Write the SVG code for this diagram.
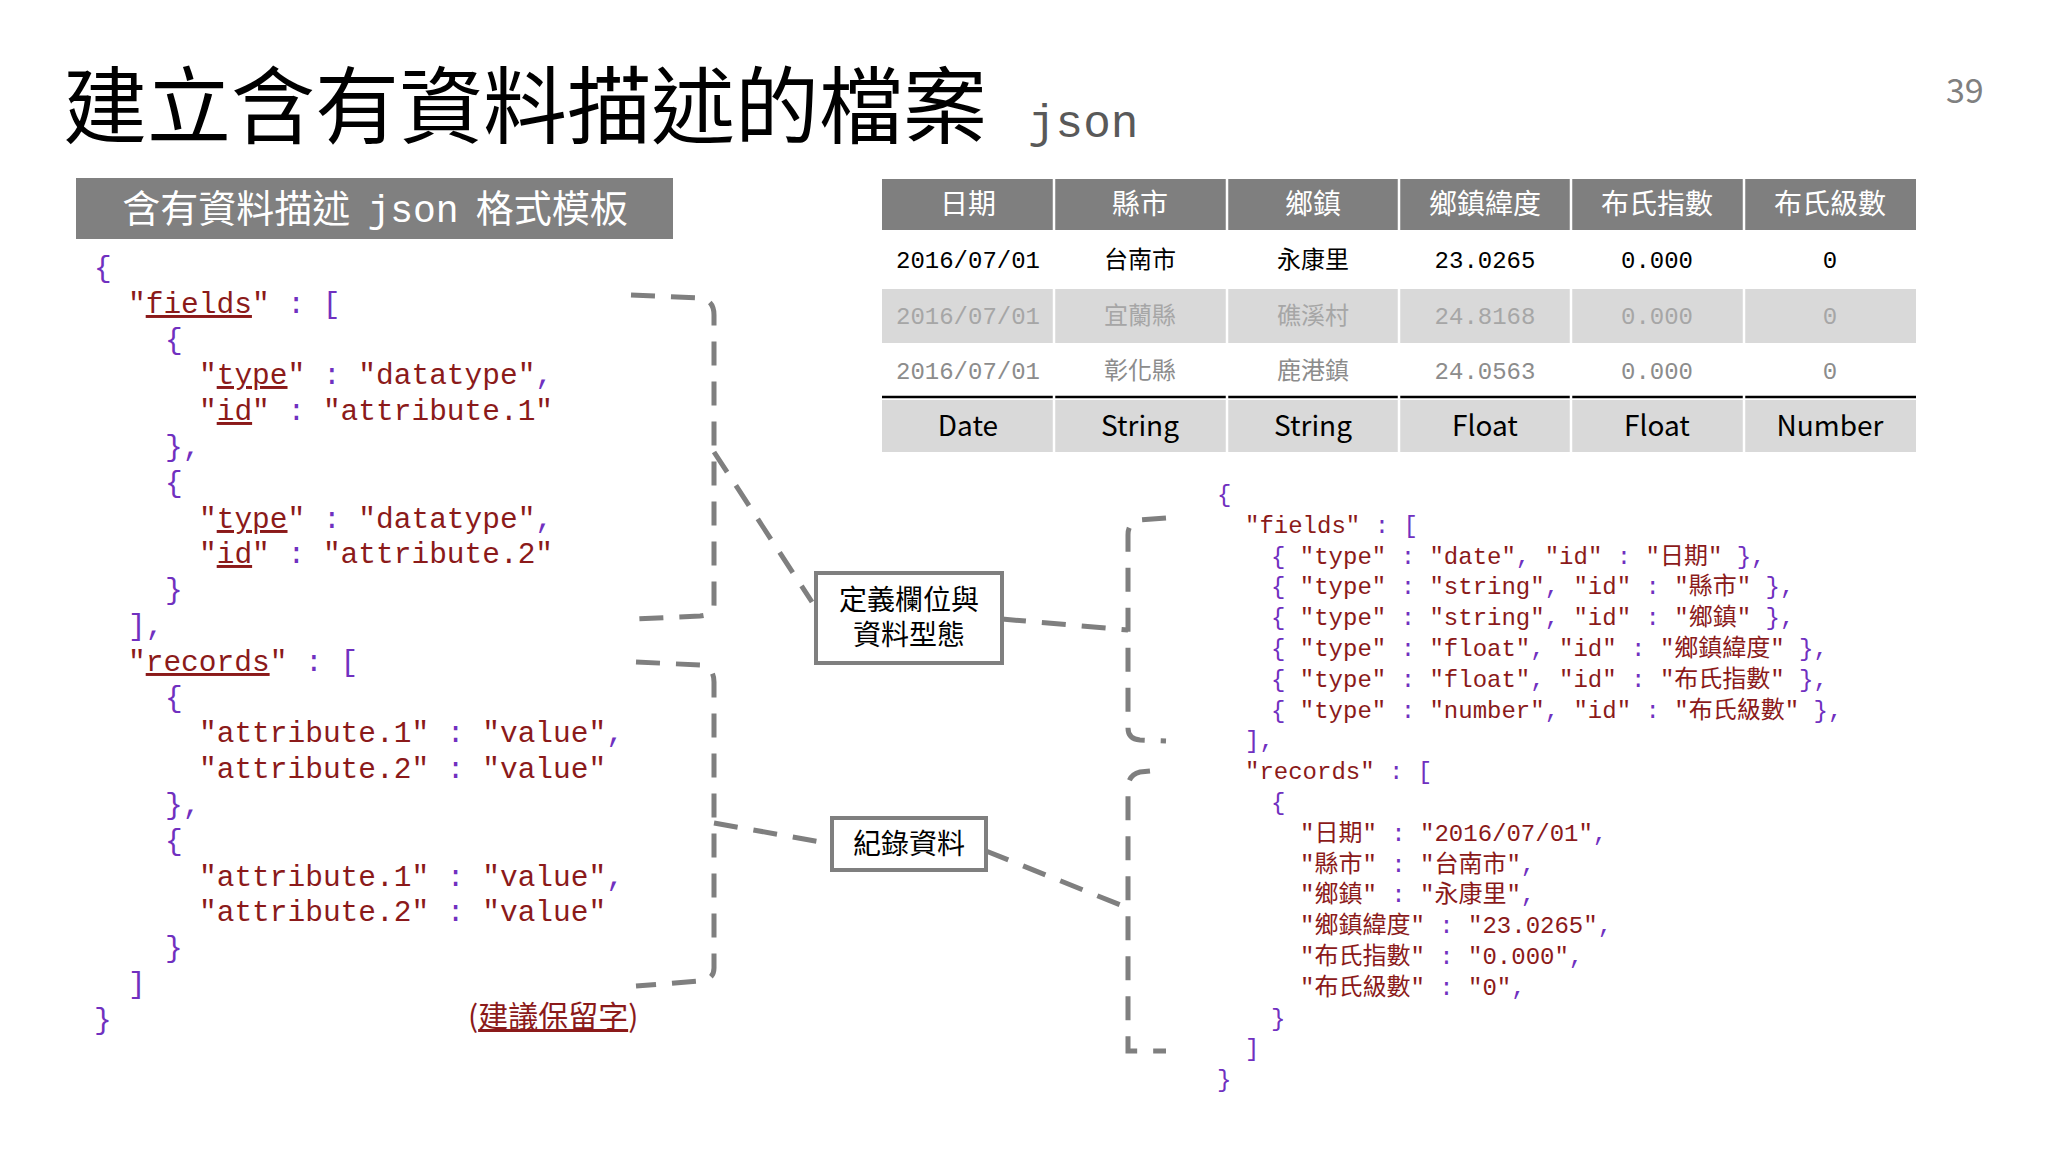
<svg xmlns="http://www.w3.org/2000/svg" width="2048" height="1152" viewBox="0 0 2048 1152">
<style>
.m{font-family:"Liberation Mono","Noto Sans CJK TC",monospace}
.s{font-family:"Noto Sans CJK TC","Noto Sans",sans-serif}
.lc{font-size:29.5px;fill:#8B1A1A}
.rc{font-size:24px;fill:#8B1A1A}
.p{fill:#7030C0}
.u{text-decoration:underline}
.h{font-size:28px;fill:#fff;text-anchor:middle}
.d{font-size:24px;text-anchor:middle}
.t{font-size:28px;text-anchor:middle;fill:#000}
.dash{fill:none;stroke:#7f7f7f;stroke-width:5;stroke-dasharray:24 16}
.box{fill:#fff;stroke:#7f7f7f;stroke-width:4}
</style>
<rect width="2048" height="1152" fill="#fff"/>
<g id="title">
<text x="63" y="137" class="s" font-size="84" fill="#000">建立含有資料描述的檔案</text>
<text x="1028" y="137" class="m" font-size="46" fill="#595959">json</text>
<text x="1946" y="103" class="s" font-size="34" fill="#808080">39</text>
</g>
<g id="template-header">
<rect x="76" y="178" width="597" height="61" fill="#808080"/>
<text x="375" y="222" class="s" font-size="38" fill="#fff" text-anchor="middle" xml:space="preserve">含有資料描述  <tspan class="m">json</tspan>  格式模板</text>
</g>
<g id="left-code" class="m lc">
<text x="94" y="277" class="p">{</text>
<text x="128" y="313">"<tspan class="u">fields</tspan>" <tspan class="p">: [</tspan></text>
<text x="165" y="349" class="p">{</text>
<text x="199" y="384">"<tspan class="u">type</tspan>" <tspan class="p">:</tspan> "datatype"<tspan class="p">,</tspan></text>
<text x="199" y="420">"<tspan class="u">id</tspan>" <tspan class="p">:</tspan> "attribute.1"</text>
<text x="165" y="456" class="p">},</text>
<text x="165" y="492" class="p">{</text>
<text x="199" y="528">"<tspan class="u">type</tspan>" <tspan class="p">:</tspan> "datatype"<tspan class="p">,</tspan></text>
<text x="199" y="563">"<tspan class="u">id</tspan>" <tspan class="p">:</tspan> "attribute.2"</text>
<text x="165" y="599" class="p">}</text>
<text x="128" y="635" class="p">],</text>
<text x="128" y="671">"<tspan class="u">records</tspan>" <tspan class="p">: [</tspan></text>
<text x="165" y="707" class="p">{</text>
<text x="199" y="742">"attribute.1" <tspan class="p">:</tspan> "value"<tspan class="p">,</tspan></text>
<text x="199" y="778">"attribute.2" <tspan class="p">:</tspan> "value"</text>
<text x="165" y="814" class="p">},</text>
<text x="165" y="850" class="p">{</text>
<text x="199" y="886">"attribute.1" <tspan class="p">:</tspan> "value"<tspan class="p">,</tspan></text>
<text x="199" y="921">"attribute.2" <tspan class="p">:</tspan> "value"</text>
<text x="165" y="957" class="p">}</text>
<text x="128" y="993" class="p">]</text>
<text x="94" y="1029" class="p">}</text>
<text x="468" y="1027" class="s" font-size="30">(<tspan class="u">建議保留字</tspan>)</text>
</g>
<g id="table">
<rect x="882" y="179" width="1034" height="51" fill="#7f7f7f"/>
<rect x="882" y="289" width="1034" height="54" fill="#d9d9d9"/>
<rect x="882" y="400" width="1034" height="52" fill="#d9d9d9"/>
<line x1="882" y1="397" x2="1916" y2="397" stroke="#000" stroke-width="2.5"/>
<g stroke="#fff" stroke-width="2.5">
<line x1="1054" y1="179" x2="1054" y2="452"/><line x1="1227" y1="179" x2="1227" y2="452"/><line x1="1399" y1="179" x2="1399" y2="452"/><line x1="1571" y1="179" x2="1571" y2="452"/><line x1="1744" y1="179" x2="1744" y2="452"/>
</g>
<g class="s h">
<text x="968" y="214">日期</text><text x="1140" y="214">縣市</text><text x="1313" y="214">鄉鎮</text><text x="1485" y="214">鄉鎮緯度</text><text x="1657" y="214">布氏指數</text><text x="1830" y="214">布氏級數</text>
</g>
<g class="m d" fill="#000">
<text x="968" y="268">2016/07/01</text><text x="1140" y="268" class="s">台南市</text><text x="1313" y="268" class="s">永康里</text><text x="1485" y="268">23.0265</text><text x="1657" y="268">0.000</text><text x="1830" y="268">0</text>
</g>
<g class="m d" fill="#a6a6a6">
<text x="968" y="324">2016/07/01</text><text x="1140" y="324" class="s">宜蘭縣</text><text x="1313" y="324" class="s">礁溪村</text><text x="1485" y="324">24.8168</text><text x="1657" y="324">0.000</text><text x="1830" y="324">0</text>
</g>
<g class="m d" fill="#8c8c8c">
<text x="968" y="379">2016/07/01</text><text x="1140" y="379" class="s">彰化縣</text><text x="1313" y="379" class="s">鹿港鎮</text><text x="1485" y="379">24.0563</text><text x="1657" y="379">0.000</text><text x="1830" y="379">0</text>
</g>
<g class="s t">
<text x="968" y="436">Date</text><text x="1140" y="436">String</text><text x="1313" y="436">String</text><text x="1485" y="436">Float</text><text x="1657" y="436">Float</text><text x="1830" y="436">Number</text>
</g>
</g>
<g id="right-code" class="m rc">
<text x="1217" y="502" class="p">{</text>
<text x="1245" y="533">"fields" <tspan class="p">: [</tspan></text>
<text x="1271" y="564"><tspan class="p">{</tspan> "type" <tspan class="p">:</tspan> "date"<tspan class="p">,</tspan> "id" <tspan class="p">:</tspan> "日期" <tspan class="p">},</tspan></text>
<text x="1271" y="594"><tspan class="p">{</tspan> "type" <tspan class="p">:</tspan> "string"<tspan class="p">,</tspan> "id" <tspan class="p">:</tspan> "縣市" <tspan class="p">},</tspan></text>
<text x="1271" y="625"><tspan class="p">{</tspan> "type" <tspan class="p">:</tspan> "string"<tspan class="p">,</tspan> "id" <tspan class="p">:</tspan> "鄉鎮" <tspan class="p">},</tspan></text>
<text x="1271" y="656"><tspan class="p">{</tspan> "type" <tspan class="p">:</tspan> "float"<tspan class="p">,</tspan> "id" <tspan class="p">:</tspan> "鄉鎮緯度" <tspan class="p">},</tspan></text>
<text x="1271" y="687"><tspan class="p">{</tspan> "type" <tspan class="p">:</tspan> "float"<tspan class="p">,</tspan> "id" <tspan class="p">:</tspan> "布氏指數" <tspan class="p">},</tspan></text>
<text x="1271" y="718"><tspan class="p">{</tspan> "type" <tspan class="p">:</tspan> "number"<tspan class="p">,</tspan> "id" <tspan class="p">:</tspan> "布氏級數" <tspan class="p">},</tspan></text>
<text x="1245" y="748" class="p">],</text>
<text x="1245" y="779">"records" <tspan class="p">: [</tspan></text>
<text x="1271" y="810" class="p">{</text>
<text x="1300" y="841">"日期" <tspan class="p">:</tspan> "2016/07/01"<tspan class="p">,</tspan></text>
<text x="1300" y="872">"縣市" <tspan class="p">:</tspan> "台南市"<tspan class="p">,</tspan></text>
<text x="1300" y="902">"鄉鎮" <tspan class="p">:</tspan> "永康里"<tspan class="p">,</tspan></text>
<text x="1300" y="933">"鄉鎮緯度" <tspan class="p">:</tspan> "23.0265"<tspan class="p">,</tspan></text>
<text x="1300" y="964">"布氏指數" <tspan class="p">:</tspan> "0.000"<tspan class="p">,</tspan></text>
<text x="1300" y="995">"布氏級數" <tspan class="p">:</tspan> "0"<tspan class="p">,</tspan></text>
<text x="1271" y="1026" class="p">}</text>
<text x="1245" y="1056" class="p">]</text>
<text x="1217" y="1087" class="p">}</text>
</g>
<g id="connectors">
<path class="dash" d="M631,295 L700,298 Q714,300 714,315 L714,605 Q714,615 700,616 L636,619"/>
<path class="dash" d="M636,662 L700,665 Q714,667 714,682 L714,968 Q714,980 700,981 L636,986"/>
<path class="dash" d="M714,452 L812,602"/>
<path class="dash" d="M714,823 L832,844"/>
<path class="dash" d="M1166,518 L1140,520 Q1128,522 1128,535 L1128,728 Q1128,739 1140,740 L1166,741"/>
<path class="dash" d="M1150,771 L1140,772 Q1128,775 1128,788 L1128,1051 L1166,1051"/>
<path class="dash" d="M1002,619 L1128,630"/>
<path class="dash" d="M986,851 L1128,908"/>
</g>
<g id="node-define">
<rect class="box" x="816" y="573" width="186" height="90"/>
<text x="909" y="610" class="s" font-size="28" text-anchor="middle" fill="#000">定義欄位與</text>
<text x="909" y="645" class="s" font-size="28" text-anchor="middle" fill="#000">資料型態</text>
</g>
<g id="node-records">
<rect class="box" x="832" y="818" width="154" height="52"/>
<text x="909" y="854" class="s" font-size="28" text-anchor="middle" fill="#000">紀錄資料</text>
</g>
</svg>
